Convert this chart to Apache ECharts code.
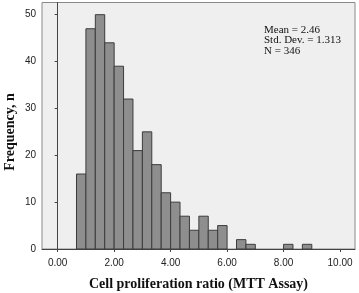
<!DOCTYPE html>
<html>
<head>
<meta charset="utf-8">
<script src="https://cdn.jsdelivr.net/npm/echarts@6/dist/echarts.min.js"></script>
<style>
  html, body { margin: 0; padding: 0; background: #fff; }
  #main { width: 359px; height: 293px; }
</style>
</head>
<body>
<div id="main"></div>
<script>
// histogram bins (SPSS style), width 1/3 starting at 0.667
var binStart = 2 / 3;
var binWidth = 1 / 3;
var counts = [16, 47, 50, 44, 39, 32, 21, 25, 18, 12, 10, 7, 4, 7, 4, 5, 0, 2, 1, 0, 0, 0, 1, 0, 1];
var xTicks = [0, 2, 4, 6, 8, 10];
var statLines = ['Mean = 2.46', 'Std. Dev. = 1.313', 'N = 346'];

var myChart = echarts.init(document.getElementById('main'));

var binData = [];
for (var i = 0; i < counts.length; i++) {
    binData.push([binStart + i * binWidth, binStart + (i + 1) * binWidth, counts[i]]);
}

myChart.setOption({
    backgroundColor: '#fff',
    animation: false,
    grid: {
        show: true,
        left: 42,
        right: 4,
        top: 2.5,
        bottom: 44,
        outerBoundsMode: 'none',
        containLabel: false,
        backgroundColor: '#efefef',
        borderColor: '#8a8a8a',
        borderWidth: 1
    },
    xAxis: {
        type: 'value',
        min: -0.555,
        max: 10.53,
        name: 'Cell proliferation ratio (MTT Assay)',
        nameLocation: 'middle',
        nameGap: 28,
        nameTextStyle: {
            fontFamily: 'Liberation Serif',
            fontWeight: 'bold',
            fontSize: 14,
            color: '#111'
        },
        splitLine: { show: false },
        axisLine: { lineStyle: { color: '#444' } },
        axisTick: {
            show: true,
            length: 3,
            customValues: xTicks,
            lineStyle: { color: '#444' }
        },
        axisLabel: {
            customValues: xTicks,
            fontFamily: 'Liberation Sans',
            fontSize: 10,
            color: '#222',
            margin: 9,
            formatter: function (v) { return v.toFixed(2); }
        }
    },
    yAxis: {
        type: 'value',
        min: 0,
        max: 52.6,
        interval: 10,
        splitLine: { show: false },
        axisLine: { show: true, lineStyle: { color: '#444' } },
        axisTick: { show: true, length: 3, lineStyle: { color: '#444' } },
        axisLabel: {
            fontFamily: 'Liberation Sans',
            fontSize: 10,
            color: '#222',
            margin: 6,
            showMaxLabel: false
        }
    },
    graphic: [{
        type: 'text',
        x: 10,
        y: 132,
        rotation: Math.PI / 2,
        style: {
            text: 'Frequency, n',
            fontFamily: 'Liberation Serif',
            fontWeight: 'bold',
            fontSize: 14,
            fill: '#111',
            textAlign: 'center',
            textVerticalAlign: 'middle'
        }
    }, {
        type: 'text',
        left: 264,
        top: 24.5,
        style: {
            text: statLines.join('\n'),
            fontFamily: 'Liberation Serif',
            fontSize: 11,
            lineHeight: 10.5,
            fill: '#111'
        }
    }],
    series: [{
        type: 'custom',
        data: binData,
        encode: { x: [0, 1], y: 2 },
        renderItem: function (params, api) {
            if (api.value(2) <= 0) return;
            var p0 = api.coord([api.value(0), api.value(2)]);
            var p1 = api.coord([api.value(1), 0]);
            return {
                type: 'rect',
                shape: { x: p0[0], y: p0[1], width: p1[0] - p0[0], height: p1[1] - p0[1] },
                style: { fill: '#8e8e8e', stroke: '#3c3c3c', lineWidth: 1 }
            };
        }
    }]
});
</script>
</body>
</html>
